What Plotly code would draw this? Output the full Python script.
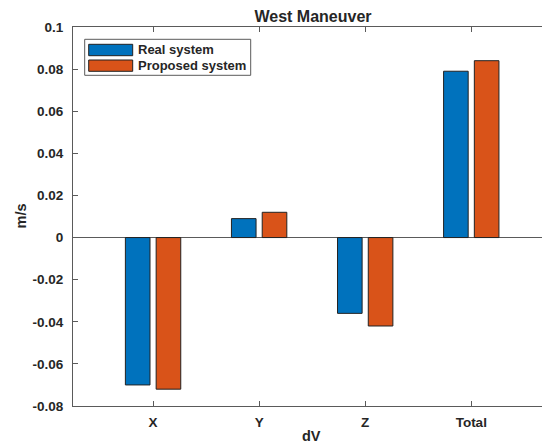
import plotly.graph_objects as go

# dV components for the west maneuver (m/s)
categories = ["X", "Y", "Z", "Total"]
real_system = [-0.070, 0.009, -0.036, 0.079]
proposed_system = [-0.072, 0.012, -0.042, 0.084]
series_names = ["Real system", "Proposed system"]
y_ticks = [-0.08, -0.06, -0.04, -0.02, 0, 0.02, 0.04, 0.06, 0.08, 0.1]
y_tick_labels = ["-0.08", "-0.06", "-0.04", "-0.02", "0", "0.02", "0.04", "0.06", "0.08", "0.1"]

BLUE = "#0072BD"
ORANGE = "#D95319"
AXIS = "#5a5a5a"
TEXT = "#262626"
FONT = "Liberation Sans"

W, H = 542, 445
ML, MR, MT, MB = 73, 0, 27, 39

fig = go.Figure()
for name, vals, col in [(series_names[0], real_system, BLUE),
                        (series_names[1], proposed_system, ORANGE)]:
    fig.add_trace(go.Bar(
        x=categories, y=vals, name=name,
        marker=dict(color=col, line=dict(color="#222222", width=1)),
        showlegend=False,
    ))

# pixel -> paper (plot-area) coordinates
def px(x):
    return (x - ML) / (W - ML - MR)
def py(y):
    return 1 - (y - MT) / (H - MT - MB)

# legend box with wide colour swatches
fig.add_shape(type="rect", xref="paper", yref="paper",
              x0=px(84.7), x1=px(250.7), y0=py(75.3), y1=py(39.3),
              line=dict(color=AXIS, width=1), fillcolor="white", layer="above")
rows = [(44.3, 55.7, 50.0), (60.0, 71.3, 65.7)]
for (t, b, c), name, col in zip(rows, series_names, [BLUE, ORANGE]):
    fig.add_shape(type="rect", xref="paper", yref="paper",
                  x0=px(88.7), x1=px(132.7), y0=py(b), y1=py(t),
                  line=dict(color="#222222", width=1), fillcolor=col, layer="above")
    fig.add_annotation(xref="paper", yref="paper", x=px(135.5), y=py(c),
                       text="<b>%s</b>" % name, showarrow=False,
                       xanchor="left", yanchor="middle",
                       font=dict(family=FONT, size=13, color=TEXT))

# axis labels
fig.add_annotation(xref="paper", yref="paper", x=px(311), y=py(436),
                   text="<b>dV</b>", showarrow=False,
                   xanchor="center", yanchor="middle",
                   font=dict(family=FONT, size=14.5, color=TEXT))
fig.add_annotation(xref="paper", yref="paper", x=px(20), y=py(216.5),
                   text="<b>m/s</b>", showarrow=False, textangle=-90,
                   xanchor="center", yanchor="middle",
                   font=dict(family=FONT, size=14.5, color=TEXT))

fig.update_layout(
    width=W, height=H,
    margin=dict(l=ML, r=MR, t=MT, b=MB),
    paper_bgcolor="white", plot_bgcolor="white",
    barmode="group", bargap=0.42, bargroupgap=0.2,
    font=dict(family=FONT, size=13, color=TEXT),
    title=dict(text="<b>West Maneuver</b>", x=313 / W, xanchor="center",
               y=1 - 16.5 / H, yanchor="middle",
               font=dict(family=FONT, size=16, color=TEXT)),
)

fig.update_xaxes(
    type="category", range=[-0.755, 3.667], automargin=False,
    showline=True, linecolor=AXIS, linewidth=1, mirror="ticks",
    ticks="inside", ticklen=5, tickcolor=AXIS, tickwidth=1,
    tickfont=dict(family=FONT, size=13.5, color=TEXT),
    tickprefix="<b>", ticksuffix="</b>",
    ticklabelstandoff=4,
    showgrid=False, zeroline=False,
)
fig.update_yaxes(
    range=[-0.08, 0.1], automargin=False,
    tickvals=y_ticks, ticktext=["<b>%s</b>" % t for t in y_tick_labels],
    showline=True, linecolor=AXIS, linewidth=1,
    ticks="inside", ticklen=5, tickcolor=AXIS, tickwidth=1,
    tickfont=dict(family=FONT, size=13.5, color=TEXT),
    ticklabelstandoff=6,
    showgrid=False,
    zeroline=True, zerolinecolor=AXIS, zerolinewidth=1,
)

fig.write_html("out.html")
